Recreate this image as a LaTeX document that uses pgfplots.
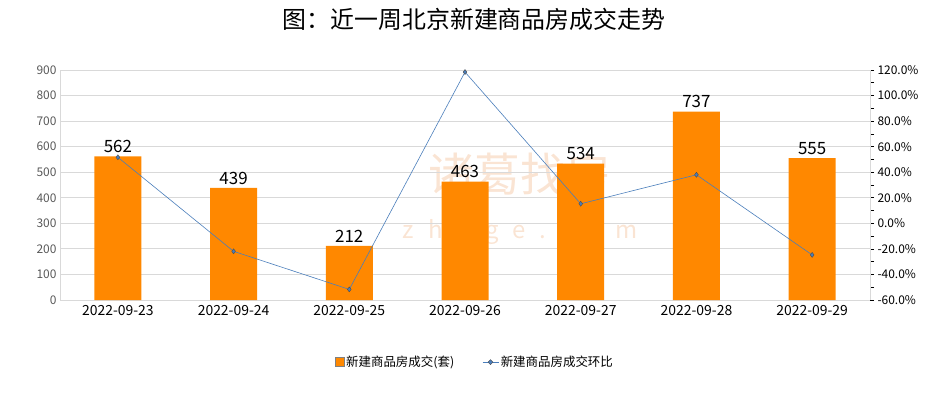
\documentclass[border=0pt]{standalone}
\usepackage{fontspec}
\setmainfont{Noto Sans CJK SC}
\usepackage{pgfplots}
\pgfplotsset{compat=1.18}
\definecolor{barorange}{HTML}{FF8800}
\definecolor{lineblue}{HTML}{4A7EBB}
\definecolor{gridgray}{HTML}{D9D9D9}
\definecolor{ticklbl}{HTML}{595959}
\definecolor{wm}{HTML}{F6D2B6}
\begin{document}
\begin{tikzpicture}[x=1bp,y=1bp]
\useasboundingbox (0,0) rectangle (950,400);
\node at (474,381) {\fontsize{24}{24}\selectfont 图：近一周北京新建商品房成交走势};
% watermark
\node[text=wm, opacity=0.6] at (520,226) {\fontsize{46}{46}\selectfont 诸葛找房};
\node[text=wm, opacity=0.6] at (520,168) {\fontsize{24}{24}\selectfont z\hspace{14bp}h\hspace{14bp}u\hspace{14bp}g\hspace{14bp}e\hspace{14bp}.\hspace{14bp}c\hspace{14bp}o\hspace{14bp}m};
\begin{axis}[
  at={(60bp,100bp)}, anchor=south west,
  scale only axis, width=810bp, height=230bp,
  xmin=-0.5, xmax=6.5, ymin=0, ymax=900,
  ytick={0,100,...,900},
  xtick={0,...,6},
  xticklabels={2022-09-23,2022-09-24,2022-09-25,2022-09-26,2022-09-27,2022-09-28,2022-09-29},
  axis x line*=bottom, axis y line*=left,
  axis line style={draw=gridgray, line width=0.8pt},
  x axis line style={-}, y axis line style={-},
  major tick length=0pt,
  ymajorgrids, grid style={draw=gridgray, line width=0.8pt},
  /pgf/number format/assume math mode=true,
  yticklabel style={font=\fontsize{12}{12}\selectfont, text=ticklbl},
  xticklabel style={font=\fontsize{14}{14}\selectfont, text=black, yshift=-2bp},
  ybar, bar width=47bp,
  nodes near coords,
  every node near coord/.append style={font=\fontsize{17}{17}\selectfont, text=black},
  clip=false,
]
\addplot[fill=barorange, draw=none] coordinates {(0,562) (1,439) (2,212) (3,463) (4,534) (5,737) (6,555)};
\end{axis}
\begin{axis}[
  at={(60bp,100bp)}, anchor=south west,
  scale only axis, width=810bp, height=230bp,
  xmin=-0.5, xmax=6.5, ymin=-60, ymax=120,
  ytick={-60,-40,...,120},
  minor ytick={-50,-30,...,110},
  axis x line=none, axis y line*=right,
  y axis line style={draw=gridgray, line width=0.8pt, -},
  tick align=outside,
  major tick length=4bp, minor tick length=4bp,
  every tick/.style={black, line width=0.6pt},
  /pgf/number format/assume math mode=true,
  yticklabel={\pgfmathprintnumber[fixed,fixed zerofill,precision=1]{\tick}\%},
  yticklabel style={font=\fontsize{12}{12}\selectfont, text=black},
  legend style={at={(0.512,-0.27)}, anchor=center, draw=none, fill=white,
    font=\fontsize{12.5}{12.5}\selectfont, legend columns=2,
    /tikz/every even column/.append style={column sep=26bp}},
  legend cell align=left,
]
\addlegendimage{legend image code/.code={\fill[barorange, draw=gray, line width=0.6pt] (3bp,-4.5bp) rectangle (12bp,4.5bp);}}
\addlegendentry{新建商品房成交(套)}
\addplot[color=lineblue, line width=0.6pt, mark=diamond*, mark size=2.5bp,
  mark options={fill=lineblue, draw=black!70, line width=0.4pt},
  legend image code/.code={\draw[lineblue, line width=0.6pt] (0bp,0bp) -- (16bp,0bp); \fill[lineblue, draw=black!70, line width=0.4pt] (8bp,2.5bp) -- (10.5bp,0bp) -- (8bp,-2.5bp) -- (5.5bp,0bp) -- cycle;}]
  coordinates {(0,51.7) (1,-21.9) (2,-51.7) (3,118.4) (4,15.3) (5,38.0) (6,-24.7)};
\addlegendentry{新建商品房成交环比}
\end{axis}
\end{tikzpicture}
\end{document}
